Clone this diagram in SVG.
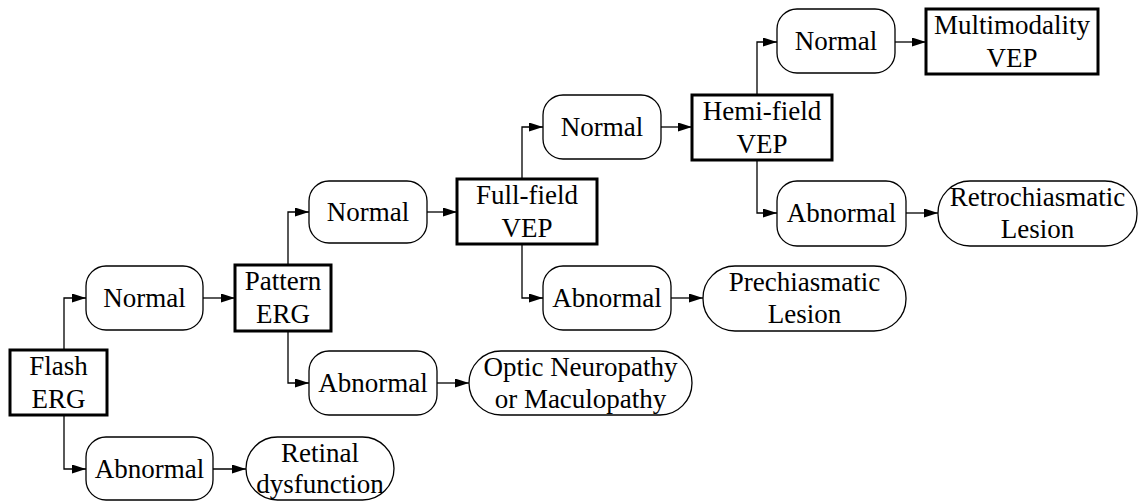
<svg xmlns="http://www.w3.org/2000/svg" width="1139" height="502" viewBox="0 0 1139 502">
<defs>
<marker id="arr" markerWidth="14" markerHeight="10" refX="14" refY="4.5" orient="auto" markerUnits="userSpaceOnUse">
<path d="M0,0 L14,4.5 L0,9 z" fill="#000"/>
</marker>
<style>
.box{fill:#fff;stroke:#000;stroke-width:3}
.rnd{fill:#fff;stroke:#000;stroke-width:1.3}
.t{font-family:"Liberation Serif","Times New Roman",serif;font-size:27px;text-anchor:middle;fill:#000}
.c{fill:none;stroke:#000;stroke-width:1.3;marker-end:url(#arr)}
</style>
</defs>
<rect width="1139" height="502" fill="#fff"/>
<g id="connectors">
<path class="c" d="M64,350 V298 H86"/>
<path class="c" d="M64,415 V469 H86"/>
<path class="c" d="M203,298 H235"/>
<path class="c" d="M213,469 H246"/>
<path class="c" d="M288,265 V212 H309"/>
<path class="c" d="M288,331 V383 H309"/>
<path class="c" d="M427,212 H457"/>
<path class="c" d="M437,383 H469"/>
<path class="c" d="M522,179 V127 H543"/>
<path class="c" d="M522,244 V298 H543"/>
<path class="c" d="M661,127 H692"/>
<path class="c" d="M671,298 H703"/>
<path class="c" d="M757,95 V42 H777"/>
<path class="c" d="M757,160 V213 H777"/>
<path class="c" d="M895,42 H926"/>
<path class="c" d="M906,213 H938"/>
</g>
<g id="flash"><rect class="box" x="10" y="350" width="97" height="65"/><text class="t" x="58.5" y="375">Flash</text><text class="t" x="58.5" y="408">ERG</text></g>
<g id="normal1"><rect class="rnd" x="86" y="266" width="117" height="64" rx="20"/><text class="t" x="144.5" y="307">Normal</text></g>
<g id="abnormal1"><rect class="rnd" x="86" y="437" width="127" height="63" rx="20"/><text class="t" x="149.5" y="478">Abnormal</text></g>
<g id="retinal"><rect class="rnd" x="246" y="437" width="148" height="63" rx="31.5"/><text class="t" x="320" y="462">Retinal</text><text class="t" x="320" y="493">dysfunction</text></g>
<g id="pattern"><rect class="box" x="235" y="265" width="96" height="66"/><text class="t" x="283" y="290">Pattern</text><text class="t" x="283" y="323">ERG</text></g>
<g id="normal2"><rect class="rnd" x="309" y="181" width="118" height="62" rx="20"/><text class="t" x="368" y="221">Normal</text></g>
<g id="abnormal2"><rect class="rnd" x="309" y="351" width="128" height="64" rx="20"/><text class="t" x="373" y="392">Abnormal</text></g>
<g id="optic"><rect class="rnd" x="469" y="351" width="223" height="64" rx="32"/><text class="t" x="580.5" y="376">Optic Neuropathy</text><text class="t" x="580.5" y="408">or Maculopathy</text></g>
<g id="fullfield"><rect class="box" x="457" y="179" width="140" height="65"/><text class="t" x="527" y="204">Full-field</text><text class="t" x="527" y="237">VEP</text></g>
<g id="normal3"><rect class="rnd" x="543" y="95" width="118" height="64" rx="20"/><text class="t" x="602" y="136">Normal</text></g>
<g id="abnormal3"><rect class="rnd" x="543" y="266" width="128" height="64" rx="20"/><text class="t" x="607" y="307">Abnormal</text></g>
<g id="prechiasmatic"><rect class="rnd" x="703" y="266" width="203" height="65" rx="32"/><text class="t" x="804.5" y="291">Prechiasmatic</text><text class="t" x="804.5" y="323">Lesion</text></g>
<g id="hemifield"><rect class="box" x="692" y="95" width="140" height="65"/><text class="t" x="762" y="120">Hemi-field</text><text class="t" x="762" y="153">VEP</text></g>
<g id="normal4"><rect class="rnd" x="777" y="9" width="118" height="64" rx="20"/><text class="t" x="836" y="50">Normal</text></g>
<g id="abnormal4"><rect class="rnd" x="777" y="181" width="129" height="65" rx="20"/><text class="t" x="841.5" y="222">Abnormal</text></g>
<g id="retro"><rect class="rnd" x="938" y="181" width="199" height="65" rx="32"/><text class="t" x="1037.5" y="206">Retrochiasmatic</text><text class="t" x="1037.5" y="238">Lesion</text></g>
<g id="multi"><rect class="box" x="926" y="9" width="172" height="65"/><text class="t" x="1012" y="34">Multimodality</text><text class="t" x="1012" y="67">VEP</text></g>
</svg>
